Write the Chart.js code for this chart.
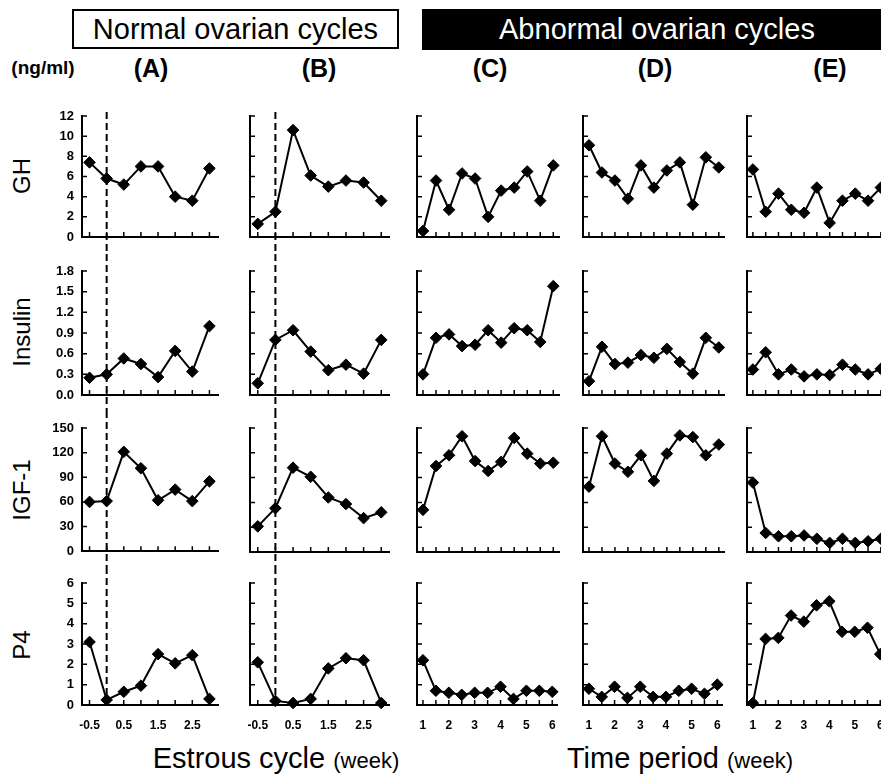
<!DOCTYPE html>
<html>
<head>
<meta charset="utf-8">
<script src="https://cdn.jsdelivr.net/npm/chart.js@4.4.1/dist/chart.umd.min.js"></script>
<style>
  html, body { margin: 0; padding: 0; background: #fff; }
  body { width: 881px; height: 783px; position: relative; overflow: hidden;
         font-family: Arial, "Liberation Sans", Helvetica, sans-serif; color: #000; }
  canvas.panel { position: absolute; }
  .txt { position: absolute; white-space: nowrap; transform: translate(-50%, -50%); }
  .rot { transform: translate(-50%, -50%) rotate(-90deg); font-size: 24px; }
  .head { position: absolute; box-sizing: border-box; font-size: 29px; text-align: center; }
  .panelTitle { font-size: 25px; font-weight: bold; }
  .axisTitle { font-size: 29px; }
  .axisTitle small { font-size: 22px; }
</style>
</head>
<body>

<div class="head" style="left:72px; top:9px; width:327px; height:40px; line-height:36px; border:2px solid #000; background:#fff;">Normal ovarian cycles</div>
<div class="head" style="left:422px; top:9px; width:470px; height:41px; line-height:40px; background:#000; color:#fff;">Abnormal ovarian cycles</div>

<div class="txt" style="left:43px; top:68px; font-size:19px; font-weight:bold;">(ng/ml)</div>
<div class="txt panelTitle" style="left:151px; top:68px;">(A)</div>
<div class="txt panelTitle" style="left:319px; top:68px;">(B)</div>
<div class="txt panelTitle" style="left:490px; top:68px;">(C)</div>
<div class="txt panelTitle" style="left:655px; top:68px;">(D)</div>
<div class="txt panelTitle" style="left:830px; top:68px;">(E)</div>

<div class="txt rot" style="left:22px; top:176px;">GH</div>
<div class="txt rot" style="left:22px; top:332px;">Insulin</div>
<div class="txt rot" style="left:22px; top:490px;">IGF-1</div>
<div class="txt rot" style="left:22px; top:645px;">P4</div>

<div class="txt axisTitle" style="left:276px; top:758px;">Estrous cycle <small>(week)</small></div>
<div class="txt axisTitle" style="left:680px; top:758px;">Time period <small>(week)</small></div>

<script>
// x values (weeks)
const weeksNormal = [-0.5, 0, 0.5, 1, 1.5, 2, 2.5, 3];
const weeksAbnormal = [1, 1.5, 2, 2.5, 3, 3.5, 4, 4.5, 5, 5.5, 6];
const labelsNormal = [-0.5, 0.5, 1.5, 2.5];
const labelsAbnormal = [1, 2, 3, 4, 5, 6];

// GH (ng/ml)
const ghA = [7.4, 5.8, 5.2, 7.0, 7.0, 4.0, 3.6, 6.8];
const ghB = [1.3, 2.5, 10.6, 6.1, 5.0, 5.6, 5.4, 3.6];
const ghC = [0.6, 5.6, 2.7, 6.3, 5.8, 2.0, 4.6, 4.9, 6.5, 3.6, 7.1];
const ghD = [9.1, 6.4, 5.6, 3.8, 7.1, 4.9, 6.6, 7.4, 3.2, 7.9, 6.9];
const ghE = [6.7, 2.5, 4.3, 2.7, 2.4, 4.9, 1.4, 3.6, 4.3, 3.6, 4.9];

// Insulin
const insA = [0.25, 0.30, 0.53, 0.45, 0.26, 0.64, 0.34, 1.0];
const insB = [0.17, 0.80, 0.94, 0.63, 0.36, 0.44, 0.31, 0.80];
const insC = [0.30, 0.83, 0.88, 0.71, 0.73, 0.94, 0.76, 0.97, 0.94, 0.77, 1.58];
const insD = [0.20, 0.70, 0.45, 0.47, 0.58, 0.54, 0.67, 0.48, 0.31, 0.83, 0.69];
const insE = [0.37, 0.62, 0.30, 0.37, 0.27, 0.30, 0.29, 0.44, 0.37, 0.30, 0.38];

// IGF-1
const igfA = [60, 61, 121, 101, 62, 75, 61, 85];
const igfB = [31, 53, 102, 91, 66, 58, 41, 48];
const igfC = [51, 104, 117, 140, 110, 98, 109, 138, 119, 107, 108];
const igfD = [79, 140, 107, 97, 117, 86, 119, 141, 139, 117, 130];
const igfE = [84, 23, 19, 19, 20, 16, 11, 16, 11, 13, 16];

// P4
const p4A = [3.1, 0.25, 0.65, 0.95, 2.5, 2.05, 2.45, 0.3];
const p4B = [2.1, 0.2, 0.1, 0.3, 1.8, 2.3, 2.2, 0.1];
const p4C = [2.2, 0.7, 0.6, 0.5, 0.6, 0.6, 0.9, 0.3, 0.7, 0.7, 0.65];
const p4D = [0.8, 0.4, 0.9, 0.35, 0.9, 0.4, 0.4, 0.7, 0.8, 0.55, 1.0];
const p4E = [0.1, 3.25, 3.3, 4.4, 4.1, 4.9, 5.1, 3.6, 3.6, 3.8, 2.5];

// y tick values
const ghTicks = [0, 2, 4, 6, 8, 10, 12];
const insTicks = [0, 0.3, 0.6, 0.9, 1.2, 1.5, 1.8];
const igfTicks = [0, 30, 60, 90, 120, 150];
const p4Ticks = [0, 1, 2, 3, 4, 5, 6];

// layout of the grid of panels (pixels)
const rows = [
  { ticks: ghTicks, digits: 0, top: 116, bottom: 237, cTop: 100, cBot: 254, data: [ghA, ghB, ghC, ghD, ghE] },
  { ticks: insTicks, digits: 1, top: 271, bottom: 395, cTop: 254, cBot: 411, data: [insA, insB, insC, insD, insE] },
  { ticks: igfTicks, digits: 0, top: 428, bottom: 552, cTop: 411, cBot: 567, data: [igfA, igfB, igfC, igfD, igfE] },
  { ticks: p4Ticks, digits: 0, top: 583, bottom: 705, cTop: 567, cBot: 745, data: [p4A, p4B, p4C, p4D, p4E] }
];
const cols = [
  { left: 82, right: 218, min: -0.72, max: 3.25, xs: weeksNormal, labels: labelsNormal, dash: true },
  { left: 250, right: 389, min: -0.72, max: 3.22, xs: weeksNormal, labels: labelsNormal, dash: true },
  { left: 417, right: 559, min: 0.77, max: 6.22, xs: weeksAbnormal, labels: labelsAbnormal },
  { left: 583, right: 724, min: 0.77, max: 6.2, xs: weeksAbnormal, labels: labelsAbnormal },
  { left: 747, right: 887, min: 0.77, max: 6.24, xs: weeksAbnormal, labels: labelsAbnormal }
];

const FONT = 'Arial, "Liberation Sans", Helvetica, sans-serif';
const Y_W = 42; // room kept left of every plot

// small ticks pointing into the plot, and the dashed line at week 0
const panelDeco = {
  id: 'panelDeco',
  beforeDatasetsDraw(chart, args, opts) {
    if (!opts.dash) return;
    const ctx = chart.ctx, a = chart.chartArea;
    const px = chart.scales.x.getPixelForValue(0);
    const y1 = opts.row === 0 ? a.top - 4 : 0;
    const y2 = opts.row === 3 ? a.bottom + 2 : chart.height;
    ctx.save();
    ctx.strokeStyle = '#000';
    ctx.lineWidth = 2;
    ctx.setLineDash([7, 4]);
    ctx.beginPath();
    ctx.moveTo(px, y1);
    ctx.lineTo(px, y2);
    ctx.stroke();
    ctx.restore();
  },
  afterDraw(chart) {
    const ctx = chart.ctx, a = chart.chartArea;
    const xs = chart.scales.x, ys = chart.scales.y;
    ctx.save();
    ctx.strokeStyle = '#000';
    ctx.lineWidth = 1.5;
    ctx.beginPath();
    xs.ticks.forEach((t, i) => {
      const px = xs.getPixelForTick(i);
      ctx.moveTo(px, a.bottom);
      ctx.lineTo(px, a.bottom - 5);
    });
    ys.ticks.forEach((t, i) => {
      const py = ys.getPixelForTick(i);
      ctx.moveTo(a.left, py);
      ctx.lineTo(a.left + 5, py);
    });
    ctx.stroke();
    ctx.restore();
  }
};

rows.forEach((row, r) => {
  cols.forEach((col, c) => {
    const cLeft = col.left - Y_W;
    const width = col.right - cLeft + 10;
    const height = row.cBot - row.cTop;
    const cv = document.createElement('canvas');
    cv.className = 'panel';
    cv.width = width;
    cv.height = height;
    cv.style.left = cLeft + 'px';
    cv.style.top = row.cTop + 'px';
    cv.style.width = width + 'px';
    cv.style.height = height + 'px';
    document.body.appendChild(cv);

    const vals = row.data[c];
    const isBottom = r === rows.length - 1;

    new Chart(cv, {
      type: 'line',
      data: {
        datasets: [{
          data: col.xs.map((x, i) => ({ x: x, y: vals[i] })),
          borderColor: '#000',
          borderWidth: 2,
          backgroundColor: '#000',
          pointStyle: 'rectRot',
          pointRadius: 5.8,
          pointBorderWidth: 1,
          pointBackgroundColor: '#000',
          pointBorderColor: '#000',
          tension: 0,
          clip: false
        }]
      },
      options: {
        responsive: false,
        animation: false,
        events: [],
        layout: { padding: { top: row.top - row.cTop, right: 10, bottom: 0, left: 0 } },
        plugins: {
          legend: { display: false },
          tooltip: { enabled: false },
          panelDeco: { dash: !!col.dash, row: r }
        },
        scales: {
          x: {
            type: 'linear',
            min: col.min,
            max: col.max,
            afterBuildTicks: s => { s.ticks = col.xs.map(v => ({ value: v })); },
            afterFit: s => { s.height = row.cBot - row.bottom; },
            grid: { drawOnChartArea: false, drawTicks: false },
            border: { display: true, color: '#000', width: 2 },
            ticks: {
              display: isBottom,
              autoSkip: false,
              maxRotation: 0,
              padding: 13,
              color: '#000',
              font: { family: FONT, size: 12, weight: 'bold' },
              callback: v => col.labels.some(l => Math.abs(l - v) < 1e-6) ? String(v) : ''
            }
          },
          y: {
            type: 'linear',
            min: 0,
            max: row.ticks[row.ticks.length - 1],
            afterBuildTicks: s => { s.ticks = row.ticks.map(v => ({ value: v })); },
            afterFit: s => { s.width = Y_W; },
            grid: { drawOnChartArea: false, drawTicks: false },
            border: { display: true, color: '#000', width: 2 },
            ticks: {
              display: c === 0,
              padding: 8,
              color: '#000',
              font: { family: FONT, size: 13, weight: 'bold' },
              callback: v => v.toFixed(row.digits)
            }
          }
        }
      },
      plugins: [panelDeco]
    });
  });
});
</script>
</body>
</html>
